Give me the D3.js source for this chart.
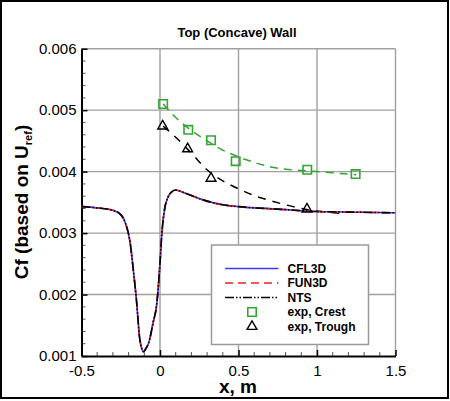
<!DOCTYPE html>
<html>
<head>
<meta charset="utf-8">
<script src="https://cdn.jsdelivr.net/npm/d3@7"></script>
<style>
  body { margin: 0; background: #fff; }
  svg { display: block; font-family: "Liberation Sans", Arial, sans-serif; }
</style>
</head>
<body>
<div id="chart"></div>
<script>
// CFD skin friction along the top wall (CFL3D, FUN3D and NTS lie on top of each other)
var cfdX   = [-0.5, -0.4, -0.3, -0.25, -0.22, -0.19, -0.17, -0.15, -0.13, -0.115, -0.105, -0.09, -0.07, -0.045, -0.02, 0, 0.012, 0.03, 0.05, 0.07, 0.1, 0.15, 0.2, 0.3, 0.4, 0.5, 0.75, 1.0, 1.25, 1.5];
var cfl3dCf = [0.00343, 0.00341, 0.00337, 0.0033, 0.00316, 0.00284, 0.0024, 0.00191, 0.0013, 0.00111, 0.00107, 0.00112, 0.00123, 0.00153, 0.00186, 0.00251, 0.003, 0.0034, 0.00358, 0.00366, 0.0037, 0.00366, 0.00361, 0.00352, 0.00346, 0.00343, 0.00339, 0.00335, 0.00334, 0.00333];
var fun3dCf = cfl3dCf.slice();
var ntsCf   = cfl3dCf.slice();

// experiment
var crestX  = [0.02, 0.18, 0.325, 0.482, 0.938, 1.246];
var crestCf = [0.0051, 0.00468, 0.00451, 0.00417, 0.00403, 0.00396];
var troughX  = [0.017, 0.176, 0.325, 0.936];
var troughCf = [0.00474, 0.00437, 0.00389, 0.00339];

// dashed fits through the experiment
var crestFitX  = [0.02, 0.1, 0.2, 0.3, 0.4, 0.5, 0.6, 0.7, 0.8, 0.9, 1.0, 1.1, 1.25];
var crestFitCf = [0.0051, 0.00488, 0.00467, 0.0045, 0.00435, 0.00424, 0.00415, 0.00408, 0.00404, 0.00402, 0.004, 0.00398, 0.00395];
var troughFitX  = [0.02, 0.1, 0.2, 0.3, 0.4, 0.5, 0.6, 0.7, 0.8, 0.9, 1.0, 1.15];
var troughFitCf = [0.00474, 0.00456, 0.0043, 0.00403, 0.00385, 0.00372, 0.00361, 0.00353, 0.00346, 0.0034, 0.00336, 0.00332];

var xTicks = [-0.5, 0, 0.5, 1, 1.5];
var xTickLabels = ["-0.5", "0", "0.5", "1", "1.5"];
var yTicks = [0.001, 0.002, 0.003, 0.004, 0.005, 0.006];
var yTickLabels = ["0.001", "0.002", "0.003", "0.004", "0.005", "0.006"];

var width = 450, height = 401;
var svg = d3.select("#chart").append("svg")
    .attr("width", width)
    .attr("height", height);

// outer frame
svg.append("rect")
    .attr("x", 1).attr("y", 1)
    .attr("width", 447).attr("height", 397)
    .attr("fill", "white").attr("stroke", "black").attr("stroke-width", 2);

var x = d3.scaleLinear().domain([-0.5, 1.5]).range([81.5, 395.5]);
var y = d3.scaleLinear().domain([0.001, 0.006]).range([356, 48.7]);

// grid
var grid = svg.append("g").attr("stroke", "#a0a0a0").attr("stroke-width", 1.4);
grid.selectAll(".gx").data(xTicks.slice(1)).enter().append("line")
    .attr("x1", function(d){ return x(d); }).attr("x2", function(d){ return x(d); })
    .attr("y1", y(0.001)).attr("y2", y(0.006));
grid.selectAll(".gy").data(yTicks.slice(1)).enter().append("line")
    .attr("x1", x(-0.5)).attr("x2", x(1.5))
    .attr("y1", function(d){ return y(d); }).attr("y2", function(d){ return y(d); });

// minor ticks (inside)
var xMinor = d3.range(-0.4, 1.5, 0.1).filter(function(d){ return Math.abs(d*2 - Math.round(d*2)) > 0.01; });
var yMinor = d3.range(0.0012, 0.006, 0.0002).filter(function(d){ return Math.abs(d*1000 - Math.round(d*1000)) > 0.01; });
var minor = svg.append("g").attr("stroke", "#555").attr("stroke-width", 1);
minor.selectAll(".mx").data(xMinor).enter().append("line")
    .attr("x1", function(d){ return x(d); }).attr("x2", function(d){ return x(d); })
    .attr("y1", y(0.001)).attr("y2", y(0.001) - 4);
minor.selectAll(".my").data(yMinor).enter().append("line")
    .attr("x1", x(-0.5)).attr("x2", x(-0.5) + 4)
    .attr("y1", function(d){ return y(d); }).attr("y2", function(d){ return y(d); });

// axes with inward major ticks
var xAxis = d3.axisBottom(x).tickValues(xTicks)
    .tickFormat(function(d, i){ return xTickLabels[i]; })
    .tickSizeInner(-6).tickSizeOuter(0).tickPadding(9);
var gx = svg.append("g").attr("transform", "translate(0," + y(0.001) + ")").call(xAxis);
gx.selectAll("text").attr("font-size", "15px").attr("fill", "black");
gx.select(".domain").attr("stroke-width", 2);
gx.selectAll(".tick line").attr("stroke-width", 1.5);

var yAxis = d3.axisLeft(y).tickValues(yTicks)
    .tickFormat(function(d, i){ return yTickLabels[i]; })
    .tickSizeInner(-6).tickSizeOuter(0).tickPadding(5);
var gy = svg.append("g").attr("transform", "translate(" + x(-0.5) + ",0)").call(yAxis);
gy.selectAll("text").attr("font-size", "15px").attr("fill", "black");
gy.select(".domain").attr("stroke-width", 2);
gy.selectAll(".tick line").attr("stroke-width", 1.5);

// lines
function pts(xs, ys){ return xs.map(function(d, i){ return [d, ys[i]]; }); }
var line = d3.line()
    .x(function(d){ return x(d[0]); })
    .y(function(d){ return y(d[1]); })
    .curve(d3.curveMonotoneX);

var plot = svg.append("g");
plot.append("path").datum(pts(crestFitX, crestFitCf))
    .attr("d", line).attr("fill", "none")
    .attr("stroke", "#33a532").attr("stroke-width", 1.5).attr("stroke-dasharray", "8,6");
plot.append("path").datum(pts(troughFitX, troughFitCf))
    .attr("d", line).attr("fill", "none")
    .attr("stroke", "black").attr("stroke-width", 1.5).attr("stroke-dasharray", "8,7");

var series = [
    {name: "CFL3D", cf: cfl3dCf, color: "#3b3bff", dash: null},
    {name: "FUN3D", cf: fun3dCf, color: "#e8202a", dash: "8,5"},
    {name: "NTS",   cf: ntsCf,   color: "black",   dash: "9,2,1.5,2,1.5,2"}
];
series.forEach(function(s){
    plot.append("path").datum(pts(cfdX, s.cf))
        .attr("d", line).attr("fill", "none")
        .attr("stroke", s.color).attr("stroke-width", 1.6)
        .attr("stroke-dasharray", s.dash);
});

var sq = d3.symbol().type(d3.symbolSquare).size(72);
var tri = d3.symbol().type(d3.symbolTriangle).size(42);
plot.selectAll(".crest").data(pts(crestX, crestCf)).enter().append("path")
    .attr("d", sq)
    .attr("transform", function(d){ return "translate(" + x(d[0]) + "," + y(d[1]) + ")"; })
    .attr("fill", "none").attr("stroke", "#33a532").attr("stroke-width", 1.6);
plot.selectAll(".trough").data(pts(troughX, troughCf)).enter().append("path")
    .attr("d", tri)
    .attr("transform", function(d){ return "translate(" + x(d[0]) + "," + y(d[1]) + ")"; })
    .attr("fill", "none").attr("stroke", "black").attr("stroke-width", 1.4);

// legend
var leg = svg.append("g");
leg.append("rect")
    .attr("x", 211.5).attr("y", 245).attr("width", 157).attr("height", 99.5)
    .attr("fill", "white").attr("stroke", "#9a9a9a").attr("stroke-width", 1.5);
var legendNames = ["CFL3D", "FUN3D", "NTS", "exp, Crest", "exp, Trough"];
var legY = [268.5, 283, 297.5, 312, 326.5];
series.forEach(function(s, i){
    leg.append("line")
        .attr("x1", 225).attr("x2", 278.5)
        .attr("y1", legY[i]).attr("y2", legY[i])
        .attr("stroke", s.color).attr("stroke-width", 1.6)
        .attr("stroke-dasharray", s.dash);
});
leg.append("path").attr("d", sq)
    .attr("transform", "translate(252," + legY[3] + ")")
    .attr("fill", "none").attr("stroke", "#33a532").attr("stroke-width", 1.6);
leg.append("path").attr("d", tri)
    .attr("transform", "translate(252," + legY[4] + ")")
    .attr("fill", "none").attr("stroke", "black").attr("stroke-width", 1.4);
leg.selectAll(".lt").data(legendNames).enter().append("text")
    .attr("x", 287.5)
    .attr("y", function(d, i){ return legY[i]; })
    .attr("dy", "0.36em")
    .attr("font-size", "12px").attr("font-weight", "bold")
    .text(function(d){ return d; });

// titles
svg.append("text")
    .attr("x", 237).attr("y", 36.5)
    .attr("text-anchor", "middle")
    .attr("font-size", "13px").attr("font-weight", "bold")
    .text("Top (Concave) Wall");

svg.append("text")
    .attr("x", 238).attr("y", 392.5)
    .attr("text-anchor", "middle")
    .attr("font-size", "19px").attr("font-weight", "bold")
    .text("x, m");

var yt = svg.append("text")
    .attr("transform", "translate(28,202) rotate(-90)")
    .attr("text-anchor", "middle")
    .attr("font-size", "19px").attr("font-weight", "bold");
yt.append("tspan").text("Cf (based on U");
yt.append("tspan").attr("font-size", "11px").attr("dy", "4").text("ref");
yt.append("tspan").attr("dy", "-4").text(")");
</script>
</body>
</html>
